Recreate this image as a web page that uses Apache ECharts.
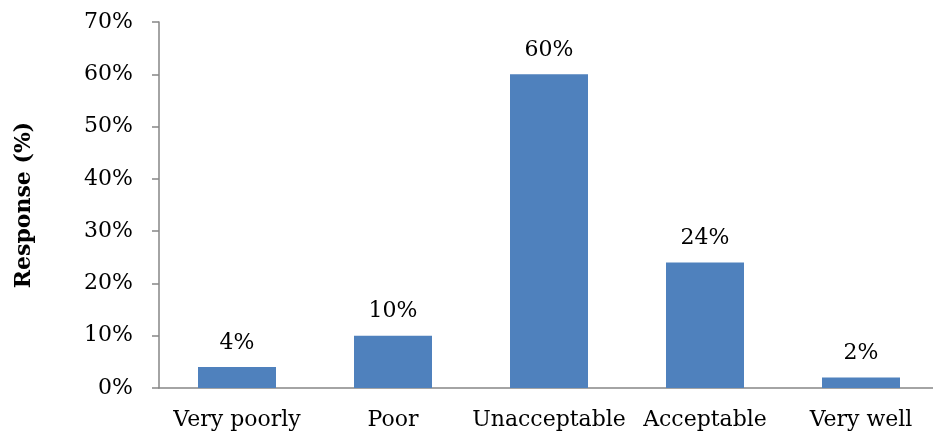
<!DOCTYPE html>
<html><head><meta charset="utf-8">
<script src="https://cdn.jsdelivr.net/npm/echarts@6/dist/echarts.min.js"></script>
<style>html,body{margin:0;padding:0;background:#fff}#c{width:933px;height:438px}</style>
</head><body><div id="c"></div>
<script>
var categories = ["Very poorly", "Poor", "Unacceptable", "Acceptable", "Very well"];
var values = [4, 10, 60, 24, 2];
var yTicks = [0, 10, 20, 30, 40, 50, 60, 70];
var FONT = "DejaVu Serif";
var chart = echarts.init(document.getElementById('c'));
chart.setOption({
  animation: false,
  grid: { left: 159, top: 22, width: 780, height: 366, containLabel: false, outerBoundsMode: 'none' },
  xAxis: {
    type: 'category', data: categories,
    axisLine: { lineStyle: { color: '#868686', width: 1.5 } },
    axisTick: { length: 7, lineStyle: { color: '#868686', width: 1.5 } },
    axisLabel: { color: '#000', fontFamily: FONT, fontSize: 22, margin: 21, interval: 0, hideOverlap: false }
  },
  yAxis: {
    type: 'value', min: 0, max: 70, interval: 10,
    name: 'Response (%)', nameLocation: 'middle', nameGap: 124, nameRotate: 90,
    nameTextStyle: { color: '#000', fontFamily: FONT, fontSize: 22, fontWeight: 'bold' },
    axisLine: { show: true, lineStyle: { color: '#868686', width: 1.5 } },
    axisTick: { show: true, length: 7, lineStyle: { color: '#868686', width: 1.5 } },
    splitLine: { show: false },
    axisLabel: { color: '#000', fontFamily: FONT, fontSize: 22, margin: 26, formatter: function (v) { return v + '%'; } }
  },
  series: [{
    type: 'bar', data: values, barWidth: '50%',
    itemStyle: { color: '#4F81BD' },
    label: { show: true, position: 'top', distance: 13, color: '#000', fontFamily: FONT, fontSize: 22, formatter: function (p) { return p.value + '%'; } }
  }]
});
</script></body></html>
